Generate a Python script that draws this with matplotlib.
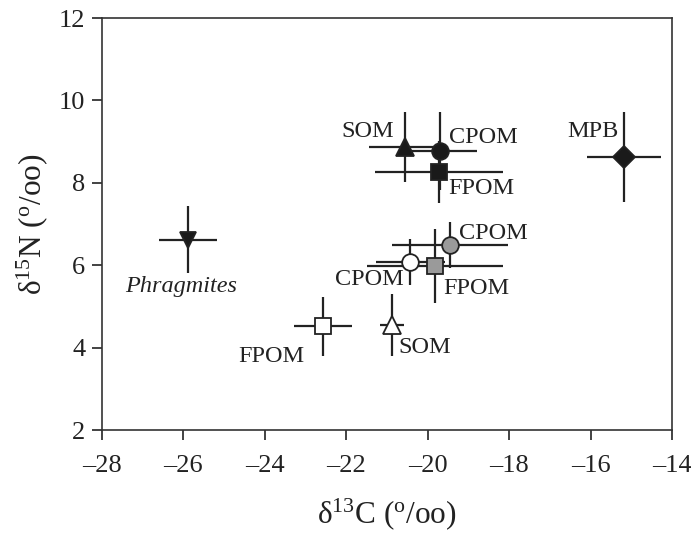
import matplotlib
matplotlib.use("Agg")
import matplotlib.pyplot as plt
from matplotlib.ticker import FuncFormatter

plt.rcParams["font.family"] = ["Liberation Serif", "DejaVu Serif"]
plt.rcParams["mathtext.fontset"] = "custom"
plt.rcParams["mathtext.rm"] = "Liberation Serif"
plt.rcParams["mathtext.it"] = "Liberation Serif:italic"

# sources: label, d13C, d15N, sd13C, sd15N
labels = ["Phragmites", "MPB", "SOM", "CPOM", "FPOM", "CPOM", "CPOM", "FPOM", "SOM", "FPOM"]
d13c = [-25.89, -15.18, -20.56, -19.70, -19.72, -19.45, -20.43, -19.82, -20.88, -22.57]
d15n = [6.62, 8.63, 8.87, 8.77, 8.26, 6.49, 6.08, 5.99, 4.55, 4.52]
sd13c = [0.72, 0.90, 0.88, 0.92, 1.57, 1.42, 0.85, 1.67, 0.30, 0.71]
sd15n = [0.82, 1.09, 0.86, 0.95, 0.75, 0.55, 0.55, 0.90, 0.75, 0.72]

markers = ["v", "D", "^", "o", "s", "o", "o", "s", "^", "s"]
fills = ["#1a1a1a", "#1a1a1a", "#1a1a1a", "#1a1a1a", "#1a1a1a", "#9a9a9a", "white", "#9a9a9a", "white", "white"]
sizes = [12, 11, 13, 12, 11, 12, 12, 11, 13, 11]
label_offsets = [(-7, -47), (-31, 25), (-37, 15), (43, 14), (42, -16),
                 (43, 12), (-41, -18), (41, -23), (33, -23), (-52, -30)]

fig = plt.figure(figsize=(6.91, 5.33), dpi=100)
ax = fig.add_axes([0.1476, 0.1932, 0.8249, 0.773])

for i in range(len(labels)):
    ax.errorbar(d13c[i], d15n[i], xerr=sd13c[i], yerr=sd15n[i], fmt="none",
                ecolor="#222222", elinewidth=1.6, capsize=0, zorder=2)
for i in range(len(labels)):
    ax.plot(d13c[i], d15n[i], marker=markers[i], markersize=sizes[i],
            markerfacecolor=fills[i], markeredgecolor="#222222",
            markeredgewidth=1.3, linestyle="none", zorder=3)
    style = "italic" if labels[i] == "Phragmites" else "normal"
    ax.annotate(labels[i], (d13c[i], d15n[i]), xytext=label_offsets[i],
                textcoords="offset pixels", ha="center", va="center",
                fontsize=17.5, fontstyle=style, color="#222222", zorder=4)

ax.set_xlim(-28, -14)
ax.set_ylim(2, 12)
ax.set_xticks(range(-28, -13, 2))
ax.set_yticks(range(2, 13, 2))
ax.xaxis.set_major_formatter(FuncFormatter(lambda v, p: f"{v:.0f}".replace("-", "\u2013")))
ax.tick_params(labelsize=19, length=7, width=1.2, colors="#222222")
ax.tick_params(axis="x", pad=11)
ax.tick_params(axis="y", pad=5)
for sp in ax.spines.values():
    sp.set_linewidth(1.2)
    sp.set_color("#333333")

ax.set_xlabel(r"δ$^{13}$C ($^{\rm o}$/oo)", fontsize=22.5, labelpad=14, color="#222222")
ax.set_ylabel(r"δ$^{15}$N ($^{\rm o}$/oo)", fontsize=22.5, labelpad=6, color="#222222")

fig.savefig("out.png", dpi=100)
